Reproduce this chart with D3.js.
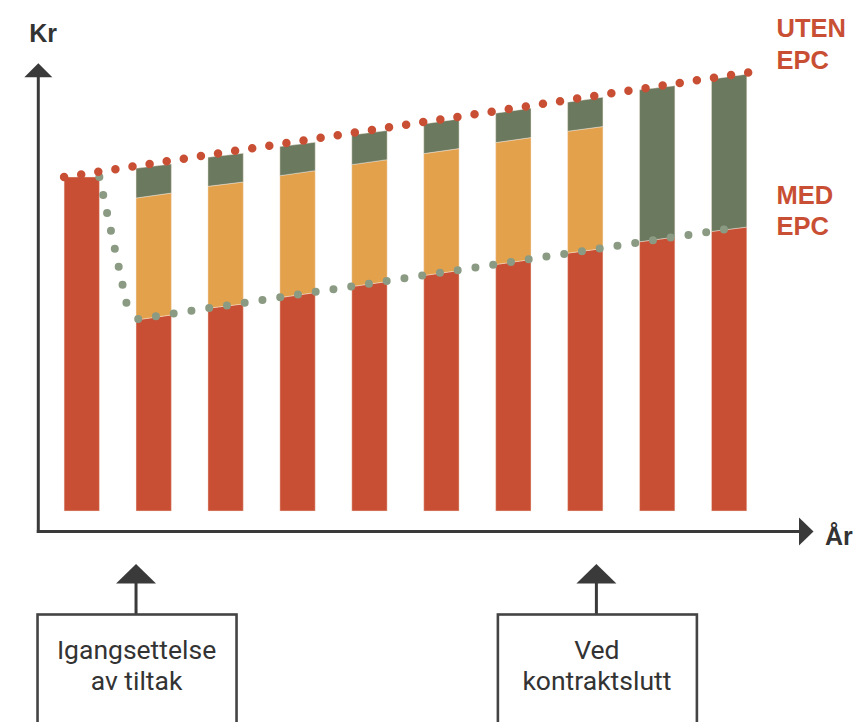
<!DOCTYPE html>
<html>
<head>
<meta charset="utf-8">
<script src="https://cdn.jsdelivr.net/npm/d3@7/dist/d3.min.js"></script>
<style>
  html, body { margin: 0; padding: 0; background: #ffffff; }
  svg { display: block; }
</style>
</head>
<body>
<div id="chart"></div>
<script>
// Years shown as bars (no tick labels are drawn)
const years = ["0", "1", "2", "3", "4", "5", "6", "7", "8", "9"];

// Energy cost with EPC (red), value at the start and end of each year
const medEPCStart = [100, 57.2, 60.7, 63.9, 67.2, 70.5, 73.8, 77.2, 80.6, 83.7];
const medEPCSlutt = [100, 58.7, 62.0, 65.4, 68.7, 72.0, 75.3, 78.6, 82.0, 85.0];

// Payment to the EPC contractor (orange)
const epcBetaling = [0, 36.5, 36.5, 36.5, 36.5, 36.5, 36.5, 36.5, 0, 0];

// Total cost without EPC (top of each bar), start and end of each year
const utenEPCStart = [100, 102.6, 105.9, 109.1, 112.6, 115.9, 119.1, 122.4, 126.1, 129.3];
const utenEPCSlutt = [100, 103.9, 107.1, 110.4, 113.9, 117.4, 120.6, 123.9, 127.3, 130.8];

// Trend lines, as [time in years, value]
const utenLinje = [[0, 100], [9.51, 131.3]];
const medOvergang = [[0.49, 100], [0.92, 57.0]];
const medLinje = [[1.03, 57.5], [9.42, 85.1]];

// Milestones below the time axis
const milepaeler = [
  { t: 1.0, tekst: ["Igangsettelse", "av tiltak"] },
  { t: 7.4, tekst: ["Ved", "kontraktslutt"] }
];

const W = 855, H = 722;
const RED = "#c94f34", ORANGE = "#e4a14b", GREEN = "#6b7a5f", GREEN_DOT = "#8b9b83";
const AXIS = "#3a3a3a", TEXT = "#333333";

const svg = d3.select("#chart").append("svg")
  .attr("width", W).attr("height", H)
  .attr("viewBox", `0 0 ${W} ${H}`);

const x = d3.scaleBand().domain(years).range([64.1, 746.8]).paddingInner(0.509).paddingOuter(0);
const t = d3.scaleLinear().domain([0, 1]).range([x(years[0]), x(years[1])]);
const y = d3.scaleLinear().domain([0, 100]).range([511, 177]);

// Stacked segments per year: red (with EPC), orange (EPC payment), green (saving)
const segments = [];
years.forEach((yr, i) => {
  const r0 = medEPCStart[i], r1 = medEPCSlutt[i];
  const o0 = r0 + epcBetaling[i], o1 = r1 + epcBetaling[i];
  const g0 = utenEPCStart[i], g1 = utenEPCSlutt[i];
  segments.push({ yr, color: RED, b: [0, 0], top: [r0, r1] });
  if (epcBetaling[i] > 0) segments.push({ yr, color: ORANGE, b: [r0, r1], top: [o0, o1] });
  if (g0 - o0 > 0.01) segments.push({ yr, color: GREEN, b: [o0, o1], top: [g0, g1] });
});

svg.append("g").selectAll("path").data(segments).join("path")
  .attr("d", d => {
    const xl = x(d.yr), xr = xl + x.bandwidth();
    return `M${xl},${y(d.b[0])}L${xl},${y(d.top[0])}L${xr},${y(d.top[1])}L${xr},${y(d.b[1])}Z`;
  })
  .attr("fill", d => d.color)
  .attr("stroke", "rgba(245,232,220,0.55)")
  .attr("stroke-width", 0.8);

// Dotted trend lines
const line = d3.line().x(d => t(d[0])).y(d => y(d[1]));
function dotted(data, color, width, gapTarget) {
  const p = svg.append("path").attr("d", line(data))
    .attr("fill", "none").attr("stroke", color)
    .attr("stroke-width", width).attr("stroke-linecap", "round");
  const L = p.node().getTotalLength();
  const gap = L / Math.max(1, Math.round(L / gapTarget));
  p.attr("stroke-dasharray", `0 ${gap}`);
}
dotted(medOvergang, GREEN_DOT, 8, 18);
dotted(medLinje, GREEN_DOT, 8, 17.9);
dotted(utenLinje, RED, 8.5, 17.4);

// Axes with arrow heads
const axisX0 = 38.3, axisY0 = y(0) + 20.5;
const axes = svg.append("g").attr("stroke", AXIS).attr("stroke-width", 3);
axes.append("line").attr("x1", axisX0).attr("y1", axisY0 + 1.5).attr("x2", axisX0).attr("y2", 76);
axes.append("line").attr("x1", axisX0 - 1.5).attr("y1", axisY0).attr("x2", 800).attr("y2", axisY0);
svg.append("path").attr("d", `M${axisX0},63.3L${axisX0 + 14},77.3L${axisX0 - 14},77.3Z`).attr("fill", AXIS);
svg.append("path").attr("d", `M813.5,${axisY0}L799,${axisY0 - 14}L799,${axisY0 + 14}Z`).attr("fill", AXIS);

svg.append("text").attr("x", 29.3).attr("y", 42.3).text("Kr")
  .attr("font-family", "Liberation Sans, Arial, sans-serif").attr("font-weight", "bold")
  .attr("font-size", 25).attr("fill", TEXT);
svg.append("text").attr("x", 825).attr("y", 544.5).text("År")
  .attr("font-family", "Liberation Sans, Arial, sans-serif").attr("font-weight", "bold")
  .attr("font-size", 25).attr("fill", TEXT);

// Series labels
const serieEtiketter = [
  { linjer: ["UTEN", "EPC"], y: 37 },
  { linjer: ["MED", "EPC"], y: 203.5 }
];
serieEtiketter.forEach(s => {
  const tx = svg.append("text")
    .attr("font-family", "Liberation Sans, Arial, sans-serif").attr("font-weight", "bold")
    .attr("font-size", 25.5).attr("fill", RED);
  s.linjer.forEach((l, i) => tx.append("tspan").attr("x", 776.5).attr("y", s.y + i * 31.5).text(l));
});

// Milestone boxes with arrows
milepaeler.forEach(m => {
  const cx = t(m.t);
  const g = svg.append("g");
  g.append("line").attr("x1", cx).attr("x2", cx).attr("y1", 582).attr("y2", 614)
    .attr("stroke", AXIS).attr("stroke-width", 3);
  g.append("path").attr("d", `M${cx},564L${cx + 20},583.5L${cx - 20},583.5Z`).attr("fill", AXIS);
  g.append("rect").attr("x", cx - 98.5).attr("y", 614.5).attr("width", 199).attr("height", 140)
    .attr("fill", "none").attr("stroke", "#444444").attr("stroke-width", 2.6);
  const tx = g.append("text").attr("text-anchor", "middle")
    .attr("font-family", "Roboto, Liberation Sans, sans-serif")
    .attr("font-size", 26.5).attr("fill", TEXT);
  m.tekst.forEach((l, i) => tx.append("tspan").attr("x", cx + 0.5).attr("y", 659 + i * 31).text(l));
});
</script>
</body>
</html>
